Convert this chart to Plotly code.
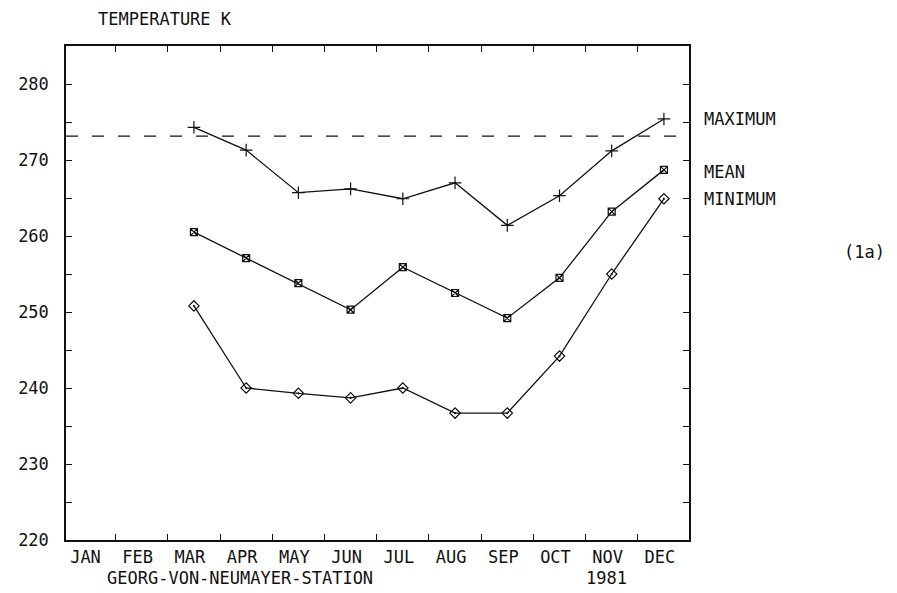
import plotly.graph_objects as go

# ---- data ----
months = ["JAN", "FEB", "MAR", "APR", "MAY", "JUN", "JUL", "AUG", "SEP", "OCT", "NOV", "DEC"]
month_num = [1, 2, 3, 4, 5, 6, 7, 8, 9, 10, 11, 12]
obs_months = [3, 4, 5, 6, 7, 8, 9, 10, 11, 12]          # MAR .. DEC 1981
t_max = [274.3, 271.3, 265.7, 266.2, 264.9, 267.0, 261.4, 265.3, 271.2, 275.4]
t_mean = [260.5, 257.1, 253.8, 250.3, 255.9, 252.5, 249.2, 254.5, 263.2, 268.7]
t_min = [250.8, 240.0, 239.3, 238.7, 240.0, 236.7, 236.7, 244.2, 255.0, 264.9]
freezing_k = 273.15
y_major = [220, 230, 240, 250, 260, 270, 280]
y_minor = [225, 235, 245, 255, 265, 275]
month_bounds = [1.5, 2.5, 3.5, 4.5, 5.5, 6.5, 7.5, 8.5, 9.5, 10.5, 11.5]

FONT = "DejaVu Sans Mono"
INK = "#111111"

fig = go.Figure()

line = dict(color=INK, width=1.3)
fig.add_trace(go.Scatter(x=obs_months, y=t_max, mode="lines+markers", line=line,
                         marker=dict(symbol="cross-thin-open", size=9, color=INK,
                                     line=dict(color=INK, width=1.2)),
                         name="MAXIMUM", showlegend=False))
fig.add_trace(go.Scatter(x=obs_months, y=t_mean, mode="lines+markers", line=line,
                         marker=dict(symbol="square-x-open", size=7, color=INK,
                                     line=dict(color=INK, width=1.2)),
                         name="MEAN", showlegend=False))
fig.add_trace(go.Scatter(x=obs_months, y=t_min, mode="lines+markers", line=line,
                         marker=dict(symbol="diamond-open-dot", size=8, color=INK,
                                     line=dict(color=INK, width=1.2)),
                         name="MINIMUM", showlegend=False))

fig.add_hline(y=freezing_k, line=dict(color=INK, width=1.2, dash="12px,14px"))

fig.update_layout(
    width=897, height=593,
    margin=dict(l=66, r=208, t=46, b=53),
    paper_bgcolor="white", plot_bgcolor="white",
    font=dict(family=FONT, size=17, color=INK),
    xaxis=dict(range=[0.55, 12.48], tickmode="array", tickvals=month_num, ticktext=months,
               ticks="", showgrid=False, zeroline=False,
               showline=True, linecolor=INK, linewidth=1.5, mirror="ticks",
               ticklabelstandoff=1, ticklabelshift=-4,
               minor=dict(tickmode="array", tickvals=month_bounds, ticks="inside",
                          ticklen=6, tickwidth=1.2, tickcolor=INK, showgrid=False)),
    yaxis=dict(range=[220, 285], tickmode="array", tickvals=y_major,
               ticks="inside", ticklen=6, tickwidth=1.2, tickcolor=INK,
               showgrid=False, zeroline=False,
               showline=True, linecolor=INK, linewidth=1.5, mirror="ticks",
               ticklabelstandoff=12,
               minor=dict(tickmode="array", tickvals=y_minor, ticks="inside",
                          ticklen=6, tickwidth=1.2, tickcolor=INK, showgrid=False)),
)

def note(text, x, y, xanchor="left"):
    fig.add_annotation(text=text, xref="paper", yref="paper", x=x, y=y,
                       xanchor=xanchor, yanchor="middle", showarrow=False,
                       font=dict(family=FONT, size=17, color=INK))

note("TEMPERATURE K", 0.159, 1.0547, "center")
note("MAXIMUM", 1.0209, 0.8522)
note("MEAN", 1.0209, 0.7449)
note("MINIMUM", 1.0209, 0.6903)
note("(1a)", 1.281, 0.583, "center")
note("GEORG-VON-NEUMAYER-STATION", 0.279, -0.0769, "center")
note("1981", 0.868, -0.0769, "center")

fig.write_html("out.html")
